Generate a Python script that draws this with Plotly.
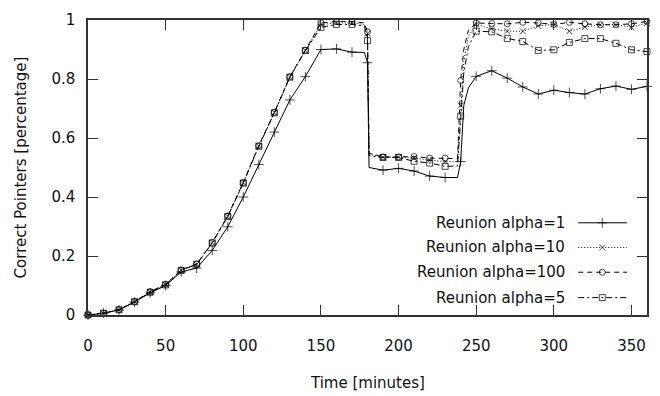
import plotly.graph_objects as go

# ---------------- data ----------------
time_min = [0, 10, 20, 30, 40, 50, 60, 70, 80, 90, 100, 110, 120, 130, 140, 150, 160, 170,
            178, 180, 181,
            190, 200, 210, 220, 230,
            238, 240, 242, 245,
            250, 260, 270, 280, 290, 300, 310, 320, 330, 340, 350, 360]

alpha1 = [0, 0.006, 0.017, 0.044, 0.075, 0.10, 0.146, 0.159, 0.219, 0.299, 0.40, 0.51, 0.62, 0.729, 0.808, 0.90, 0.902, 0.891,
          0.89, 0.855, 0.50,
          0.491, 0.497, 0.488, 0.471, 0.466,
          0.466, 0.52, 0.71, 0.77,
          0.809, 0.828, 0.803, 0.773, 0.749, 0.762, 0.754, 0.749, 0.767, 0.776, 0.765, 0.775]

alpha10 = [0, 0.006, 0.018, 0.045, 0.078, 0.103, 0.152, 0.172, 0.245, 0.335, 0.448, 0.573, 0.686, 0.806, 0.896, 0.985, 0.99, 0.99,
           0.985, 0.955, 0.545,
           0.535, 0.535, 0.532, 0.525, 0.52,
           0.52, 0.71, 0.86, 0.945,
           0.985, 0.97, 0.962, 0.962, 0.98, 0.985, 0.962, 0.976, 0.984, 0.984, 0.975, 0.99]

alpha100 = [0, 0.006, 0.018, 0.045, 0.079, 0.104, 0.153, 0.173, 0.246, 0.336, 0.449, 0.574, 0.687, 0.808, 0.898, 0.99, 0.995, 0.995,
            0.99, 0.96, 0.548,
            0.536, 0.536, 0.537, 0.532, 0.532,
            0.53, 0.795, 0.90, 0.965,
            0.99, 0.988, 0.987, 0.992, 0.99, 0.985, 0.992, 0.987, 0.984, 0.984, 0.987, 0.995]

alpha5 = [0, 0.006, 0.018, 0.045, 0.077, 0.102, 0.151, 0.172, 0.244, 0.334, 0.447, 0.572, 0.685, 0.806, 0.896, 0.975, 0.985, 0.985,
          0.98, 0.93, 0.54,
          0.534, 0.534, 0.521, 0.515, 0.504,
          0.505, 0.674, 0.82, 0.91,
          0.962, 0.96, 0.9375, 0.927, 0.897, 0.899, 0.924, 0.937, 0.937, 0.921, 0.899, 0.893]

series_names = ["Reunion alpha=1", "Reunion alpha=10", "Reunion alpha=100", "Reunion alpha=5"]
series_values = [alpha1, alpha10, alpha100, alpha5]

x_ticks = [0, 50, 100, 150, 200, 250, 300, 350]
y_ticks = [0, 0.2, 0.4, 0.6, 0.8, 1]
y_ticklabels = ["0", "0.2", "0.4", "0.6", "0.8", "1"]

# ---------------- styles ----------------
FONT = "DejaVu Sans"
FS = 15
INK = "#111111"
FRAME = "#333333"
styles = [
    dict(symbol="cross-thin-open", size=7, dash="solid"),
    dict(symbol="x-thin-open", size=6, dash="1px,2px"),
    dict(symbol="circle-open", size=6, dash="5px,4px"),
    dict(symbol="square-open", size=6, dash="6px,3px,2px,3px"),
]

fig = go.Figure()

for name, vals, st in zip(series_names, series_values, styles):
    sizes = [st["size"] if t % 10 == 0 else 0 for t in time_min]
    fig.add_trace(go.Scatter(
        x=time_min, y=vals, mode="lines+markers", name=name,
        line=dict(color="black", width=1, dash=st["dash"]),
        marker=dict(symbol=st["symbol"], size=sizes, color="black",
                    line=dict(color="black", width=1)),
        cliponaxis=False, showlegend=False,
    ))

# ---------------- manual gnuplot-style legend ----------------
leg_rows = [0.3125, 0.229, 0.145, 0.059]   # paper y of each row
leg_text_x = 0.857
leg_line_x = [0.877, 0.92, 0.964]
for name, st, yr in zip(series_names, styles, leg_rows):
    fig.add_trace(go.Scatter(
        x=leg_line_x, y=[yr] * 3, mode="lines+markers", xaxis="x2", yaxis="y2",
        line=dict(color="black", width=1, dash=st["dash"]),
        marker=dict(symbol=st["symbol"], size=[0, st["size"], 0], color="black",
                    line=dict(color="black", width=1)),
        showlegend=False, hoverinfo="skip", cliponaxis=False,
    ))
    fig.add_annotation(x=leg_text_x, y=yr, xref="paper", yref="paper", text=name,
                       showarrow=False, xanchor="right", yanchor="middle",
                       font=dict(family=FONT, size=FS, color=INK))

# axis titles
fig.add_annotation(x=0.5, y=-0.232, xref="paper", yref="paper", text="Time [minutes]",
                   showarrow=False, xanchor="center", yanchor="middle",
                   font=dict(family=FONT, size=FS, color=INK))
fig.add_annotation(x=-0.12, y=0.5, xref="paper", yref="paper", text="Correct Pointers [percentage]",
                   showarrow=False, xanchor="center", yanchor="middle", textangle=-90,
                   font=dict(family=FONT, size=FS, color=INK))

axis_common = dict(showgrid=False, zeroline=False, showline=True, linecolor=FRAME, linewidth=1.5,
                   mirror="ticks", ticks="inside", ticklen=10, tickwidth=1, tickcolor=FRAME,
                   tickfont=dict(family=FONT, size=FS, color=INK))

fig.update_layout(
    width=660, height=396,
    margin=dict(l=88, r=13, t=11, b=81),
    paper_bgcolor="white", plot_bgcolor="white",
    xaxis=dict(range=[0, 360], tickvals=x_ticks, ticklabelstandoff=16, **axis_common),
    yaxis=dict(range=[0, 1], tickvals=y_ticks, ticktext=y_ticklabels, ticklabelstandoff=8, **axis_common),
    xaxis2=dict(range=[0, 1], overlaying="x", visible=False, fixedrange=True),
    yaxis2=dict(range=[0, 1], overlaying="y", visible=False, fixedrange=True),
    showlegend=False,
)

fig.write_html("out.html")
